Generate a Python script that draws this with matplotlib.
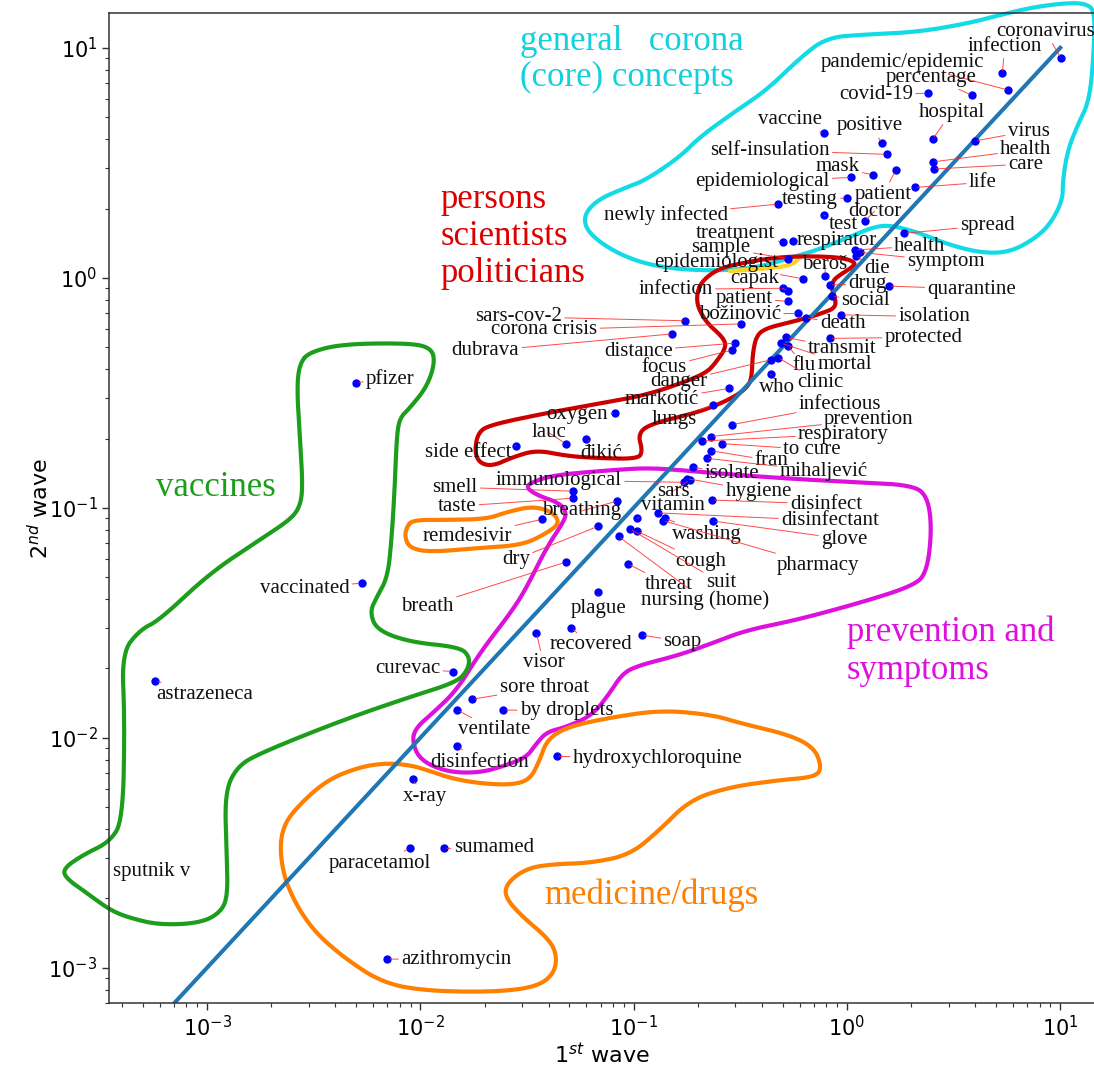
import numpy as np
import matplotlib
matplotlib.use('Agg')
import matplotlib.pyplot as plt

# word frequencies (per 1000 words) in the two waves
words = ['coronavirus', 'infection', 'pandemic/epidemic', 'percentage', 'covid-19', 'hospital',
         'vaccine', 'positive', 'self-insulation', 'virus', 'health', 'care', 'mask', 'patient',
         'epidemiological', 'life', 'testing', 'newly infected', 'test', 'doctor', 'spread',
         'treatment', 'respirator', 'sample', 'health', 'symptom', 'die', 'epidemiologist',
         'beroš', 'infection', 'capak', 'drug', 'quarantine', 'patient', 'social', 'božinović',
         'isolation', 'death', 'protected', 'sars-cov-2', 'corona crisis', 'dubrava', 'distance',
         'focus', 'transmit', 'mortal', 'flu', 'clinic', 'danger', 'who', 'markotić', 'lungs',
         'oxygen', 'lauc', 'đikić', 'side effect', 'infectious', 'prevention', 'respiratory',
         'to cure', 'fran', 'mihaljević', 'isolate', 'hygiene', 'sars', 'immunological', 'smell',
         'taste', 'breathing', 'remdesivir', 'dry', 'breath', 'vitamin', 'disinfectant',
         'washing', 'pharmacy', 'cough', 'suit', 'threat', 'nursing (home)', 'glove',
         'disinfect', 'plague', 'visor', 'recovered', 'soap', 'sore throat', 'by droplets',
         'ventilate', 'disinfection', 'hydroxychloroquine', 'x-ray', 'paracetamol', 'sumamed',
         'azithromycin', 'curevac', 'astrazeneca', 'pfizer', 'vaccinated']

wave1 = [10.1, 5.36, 5.69, 3.84, 2.40, 2.52,
         0.78, 1.46, 1.54, 3.97, 2.53, 2.55, 1.32, 1.69,
         1.05, 2.08, 1.00, 0.474, 0.78, 1.21, 1.86,
         0.50, 0.56, 0.53, 1.09, 1.15, 1.10, 0.62,
         0.79, 0.50, 0.53, 0.83, 1.57, 0.53, 0.85, 0.59,
         0.94, 0.64, 0.83, 0.175, 0.32, 0.152, 0.30,
         0.29, 0.52, 0.49, 0.53, 0.475, 0.44, 0.44, 0.28, 0.235,
         0.082, 0.048, 0.060, 0.028, 0.29, 0.23, 0.21,
         0.26, 0.23, 0.22, 0.19, 0.177, 0.183, 0.172, 0.052,
         0.052, 0.084, 0.037, 0.068, 0.048, 0.104, 0.13,
         0.14, 0.137, 0.104, 0.096, 0.094, 0.085, 0.236,
         0.233, 0.068, 0.035, 0.051, 0.109, 0.0175, 0.0245,
         0.0149, 0.0149, 0.0435, 0.0092, 0.0089, 0.0129,
         0.0070, 0.0142, 0.00057, 0.0050, 0.0053]

wave2 = [9.0, 7.74, 6.55, 6.23, 6.34, 4.0,
         4.24, 3.86, 3.44, 3.93, 3.19, 2.97, 2.80, 2.93,
         2.73, 2.47, 2.22, 2.09, 1.87, 1.76, 1.56,
         1.43, 1.44, 1.21, 1.32, 1.29, 1.24, 0.99,
         1.02, 0.90, 0.88, 0.93, 0.92, 0.79, 0.83, 0.70,
         0.69, 0.67, 0.545, 0.65, 0.63, 0.57, 0.52,
         0.485, 0.55, 0.52, 0.505, 0.45, 0.44, 0.38, 0.33, 0.28,
         0.257, 0.19, 0.20, 0.186, 0.23, 0.204, 0.195,
         0.19, 0.177, 0.164, 0.15, 0.134, 0.132, 0.129, 0.118,
         0.11, 0.107, 0.089, 0.083, 0.058, 0.090, 0.095,
         0.090, 0.088, 0.079, 0.081, 0.057, 0.075, 0.0875,
         0.108, 0.043, 0.0286, 0.030, 0.028, 0.0147, 0.0132,
         0.0132, 0.0092, 0.0083, 0.0066, 0.0033, 0.0033,
         0.00109, 0.0194, 0.0177, 0.35, 0.047]

# label offsets from the point, in pixels (x right, y up)
label_dx = [-16, 2, -106, -40, -52, 19,
            -34, -12, -117, 54, 93, 92, -35, -12,
            -89, 68, -37, -112, 19, 10, 83,
            -47, 43, -67, 65, 86, 21, -87,
            0, -107, -33, 38, 83, -44, 34, -58,
            93, 37, 94, -167, -197, -187, -97,
            -68, 56, 64, 16, 42, -92, 6, -67, -39,
            -38, -17, 15, -47, 108, 158, 141,
            90, 61, 117, 39, 72, -16, -125, -118,
            -116, -36, -74, -82, -138, 36, 172,
            42, 155, 63, 91, 41, 86, 131,
            114, 1, 7, 20, 41, 72, 63,
            37, 22, 101, 12, -30, 50,
            69, -45, 50, 34, -57]
label_dy = [27, 27, 28, 18, -1, 27,
            14, 17, 4, 10, 12, 5, 8, -24,
            -4, 5, -1, -11, -9, 10, 8,
            9, 1, 11, 4, -9, -12, 16,
            11, -1, 12, 1, -3, 3, -4, -1,
            -2, -6, 1, 4, -6, -17, -8,
            -17, -11, -21, -20, -25, -22, -13, -11, -15,
            -1, 11, -15, -7, 20, 17, 7,
            -6, -10, -13, -6, -13, -11, 2, 4,
            -8, -10, -17, -33, -44, 13, -8,
            -16, -45, -30, -54, -21, -64, -18,
            -4, -16, -30, -17, -7, 12, -1,
            -20, -16, -2, -17, -15, 1,
            0, 3, -14, 4, -5]

# label whose point lies left of the axis
hidden_word = 'sputnik v'
hidden_x, hidden_y = 5.5e-4, 0.00262

diag = [7.0e-4, 10.0]

# hand drawn group outlines, as (log10 1st wave, log10 2nd wave)
core_outline = [(-0.943, 0.425), (-0.784, 0.525), (-0.690, 0.612), (-0.535, 0.716), (-0.376, 0.816),
                (-0.221, 0.955), (-0.095, 1.045), (0.093, 1.058), (0.327, 1.068), (0.562, 1.105),
                (0.716, 1.142), (0.871, 1.176), (1.030, 1.195), (1.120, 1.192), (1.162, 1.160),
                (1.158, 0.990), (1.138, 0.773), (1.082, 0.664), (1.035, 0.555), (1.012, 0.425),
                (1.012, 0.338), (0.951, 0.229), (0.871, 0.164), (0.763, 0.112), (0.637, 0.107),
                (0.482, 0.142), (0.327, 0.199), (0.201, 0.229), (0.121, 0.220), (0.013, 0.177),
                (-0.142, 0.120), (-0.221, 0.099), (-0.423, 0.042), (-0.657, 0.029), (-0.892, 0.047),
                (-1.065, 0.099), (-1.206, 0.186), (-1.239, 0.264), (-1.173, 0.338), (-1.032, 0.394)]

yellow_piece = [(-0.549, 0.029), (-0.409, 0.038), (-0.268, 0.051), (-0.221, 0.086)]

persons_outline = [(-0.704, -0.067), (-0.676, -0.010), (-0.596, 0.042), (-0.470, 0.068), (-0.348, 0.086),
                   (-0.221, 0.094), (-0.034, 0.090), (0.041, 0.068), (0.027, 0.047), (-0.034, 0.012),
                   (-0.067, -0.014), (-0.071, -0.053), (-0.052, -0.097), (-0.057, -0.132), (-0.113, -0.153),
                   (-0.188, -0.175), (-0.282, -0.197), (-0.376, -0.219), (-0.423, -0.249), (-0.442, -0.327),
                   (-0.446, -0.432), (-0.465, -0.475), (-0.535, -0.523), (-0.690, -0.584), (-0.910, -0.632),
                   (-0.981, -0.675), (-0.957, -0.758), (-0.985, -0.788), (-1.173, -0.784), (-1.314, -0.775),
                   (-1.454, -0.749), (-1.567, -0.780), (-1.661, -0.819), (-1.722, -0.806), (-1.745, -0.758),
                   (-1.731, -0.675), (-1.675, -0.640), (-1.407, -0.588), (-1.173, -0.549), (-0.939, -0.510),
                   (-0.737, -0.445), (-0.657, -0.410), (-0.620, -0.375), (-0.564, -0.301), (-0.582, -0.258),
                   (-0.657, -0.197), (-0.700, -0.127)]

remdesivir_outline = [(-2.064, -1.084), (-2.036, -1.053), (-1.876, -1.053), (-1.689, -1.049),
                      (-1.595, -1.019), (-1.473, -0.993), (-1.379, -1.019), (-1.346, -1.067),
                      (-1.407, -1.110), (-1.520, -1.162), (-1.722, -1.175), (-1.956, -1.193),
                      (-2.050, -1.175), (-2.073, -1.127)]

prevention_outline = [(-1.487, -0.893), (-1.379, -0.858), (-1.098, -0.836), (-0.939, -0.827), (-0.784, -0.836),
                      (-0.629, -0.849), (-0.315, -0.871), (0.013, -0.888), (0.309, -0.901), (0.379, -0.953),
                      (0.398, -1.097), (0.374, -1.284), (0.309, -1.340), (0.074, -1.410), (-0.235, -1.488),
                      (-0.470, -1.532), (-0.629, -1.588), (-0.784, -1.640), (-0.971, -1.684), (-1.051, -1.719),
                      (-1.112, -1.806), (-1.192, -1.901), (-1.314, -1.953), (-1.407, -1.975), (-1.454, -2.023),
                      (-1.501, -2.084), (-1.595, -2.119), (-1.722, -2.153), (-1.876, -2.149), (-2.003, -2.097),
                      (-2.040, -2.010), (-2.017, -1.953), (-1.942, -1.893), (-1.829, -1.793), (-1.722, -1.632),
                      (-1.567, -1.445), (-1.501, -1.345), (-1.407, -1.171), (-1.332, -1.067), (-1.314, -1.023),
                      (-1.346, -0.980), (-1.454, -0.945), (-1.501, -0.914)]

medicine_outline = [(-2.659, -2.501), (-2.645, -2.388), (-2.579, -2.301), (-2.439, -2.184), (-2.284, -2.127),
                    (-2.158, -2.110), (-2.050, -2.119), (-1.970, -2.140), (-1.862, -2.175), (-1.736, -2.197),
                    (-1.581, -2.206), (-1.487, -2.184), (-1.440, -2.097), (-1.407, -2.010), (-1.314, -1.953),
                    (-1.098, -1.910), (-0.864, -1.880), (-0.629, -1.901), (-0.503, -1.936), (-0.268, -1.988),
                    (-0.151, -2.045), (-0.118, -2.132), (-0.151, -2.171), (-0.315, -2.184), (-0.549, -2.214),
                    (-0.737, -2.271), (-0.878, -2.401), (-1.018, -2.510), (-1.206, -2.545), (-1.370, -2.549),
                    (-1.501, -2.567), (-1.595, -2.632), (-1.604, -2.693), (-1.520, -2.780), (-1.407, -2.867),
                    (-1.361, -2.936), (-1.370, -3.023), (-1.454, -3.084), (-1.661, -3.106), (-1.970, -3.101),
                    (-2.176, -3.067), (-2.364, -2.953), (-2.519, -2.823), (-2.626, -2.649)]

vaccines_outline = [(-2.565, -0.371), (-2.519, -0.323), (-2.364, -0.288), (-2.050, -0.284), (-1.947, -0.306),
                    (-1.932, -0.371), (-1.970, -0.475), (-2.050, -0.567), (-2.097, -0.610), (-2.111, -0.693),
                    (-2.120, -0.910), (-2.134, -1.127), (-2.153, -1.301), (-2.204, -1.388), (-2.237, -1.453),
                    (-2.204, -1.532), (-2.050, -1.584), (-1.815, -1.606), (-1.768, -1.649), (-1.778, -1.706),
                    (-1.829, -1.758), (-2.050, -1.823), (-2.364, -1.923), (-2.753, -2.067), (-2.861, -2.127),
                    (-2.917, -2.240), (-2.908, -2.501), (-2.903, -2.693), (-2.940, -2.762), (-3.034, -2.806),
                    (-3.222, -2.814), (-3.362, -2.784), (-3.456, -2.749), (-3.564, -2.675), (-3.658, -2.614),
                    (-3.677, -2.571), (-3.583, -2.510), (-3.456, -2.453), (-3.395, -2.358), (-3.386, -1.923),
                    (-3.400, -1.632), (-3.316, -1.532), (-3.222, -1.488), (-2.987, -1.284), (-2.753, -1.140),
                    (-2.612, -1.053), (-2.565, -0.997), (-2.551, -0.910), (-2.565, -0.693), (-2.579, -0.475)]

outlines = [(core_outline, '#12dbe6', True), (yellow_piece, '#ffd21f', False),
            (persons_outline, '#cc0000', True), (remdesivir_outline, '#ff8000', True),
            (prevention_outline, '#dd11dd', True), (medicine_outline, '#ff8000', True),
            (vaccines_outline, '#1c9e1c', True)]


def rounded(pts, closed, n=3):
    # corner cutting so the hand drawn shapes look smooth
    p = np.array(pts, dtype=float)
    for _ in range(n):
        if closed:
            q = np.roll(p, -1, axis=0)
            new = np.empty((2 * len(p), 2))
            new[0::2] = 0.75 * p + 0.25 * q
            new[1::2] = 0.25 * p + 0.75 * q
            p = new
        else:
            a, b = p[:-1], p[1:]
            new = np.empty((2 * len(a), 2))
            new[0::2] = 0.75 * a + 0.25 * b
            new[1::2] = 0.25 * a + 0.75 * b
            p = np.vstack([p[:1], new, p[-1:]])
    if closed:
        p = np.vstack([p, p[:1]])
    return p


serif = ['Liberation Serif', 'DejaVu Serif']

fig = plt.figure(figsize=(10.94, 10.70), dpi=100)
ax = fig.add_axes([0.0999, 0.0623, 0.9001, 0.9258])
ax.set_xscale('log')
ax.set_yscale('log')
ax.set_xlim(3.48e-4, 14.4)
ax.set_ylim(7.0e-4, 14.2)

for pts, col, closed in outlines:
    arr = 10 ** rounded(pts, closed)
    ax.plot(arr[:, 0], arr[:, 1], color=col, lw=3.0, solid_joinstyle='round',
            solid_capstyle='round', zorder=2, clip_on=False)

ax.plot(diag, diag, color='#1f77b4', lw=2.9, zorder=2.5)
ax.scatter(wave1, wave2, s=36, color='#0000ff', zorder=3, linewidths=0)

for w, x, y, dx, dy in zip(words, wave1, wave2, label_dx, label_dy):
    ax.annotate(w, (x, y), xytext=(dx, dy), textcoords='offset pixels',
                ha='center', va='center', fontsize=15, family=serif, color='#111111',
                arrowprops=dict(arrowstyle='-', color='#ff2a2a', lw=0.7, alpha=0.85,
                                shrinkA=0, shrinkB=2),
                zorder=3)
ax.text(hidden_x, hidden_y, hidden_word, ha='center', va='center', fontsize=15,
        family=serif, color='#111111')

# group names
ax.text(0.417, 0.953, 'general   corona\n(core) concepts', transform=ax.transAxes,
        ha='left', va='center', fontsize=25, family=serif, color='#12d0dc', linespacing=1.1)
ax.text(0.336, 0.774, 'persons\nscientists\npoliticians', transform=ax.transAxes,
        ha='left', va='center', fontsize=25, family=serif, color='#dd0000', linespacing=1.15)
ax.text(0.108, 0.521, 'vaccines', transform=ax.transAxes,
        ha='center', va='center', fontsize=25, family=serif, color='#1c9e1c')
ax.text(0.749, 0.355, 'prevention and\nsymptoms', transform=ax.transAxes,
        ha='left', va='center', fontsize=25, family=serif, color='#dd11dd', linespacing=1.2)
ax.text(0.550, 0.109, 'medicine/drugs', transform=ax.transAxes,
        ha='center', va='center', fontsize=25, family=serif, color='#ff8000')

ax.set_xlabel('$1^{st}$ wave', fontsize=16, labelpad=1)
ax.set_ylabel('$2^{nd}$ wave', fontsize=16)
ax.yaxis.set_label_coords(-0.058, 0.5)
ax.tick_params(which='major', labelsize=15, length=5, width=1.0, color='#333333')
ax.tick_params(which='minor', length=3, width=0.8, color='#333333')
ax.spines['right'].set_visible(False)
for s in ['left', 'bottom', 'top']:
    ax.spines[s].set_linewidth(1.1)
    ax.spines[s].set_color('#333333')

fig.savefig('out.png', dpi=100)
